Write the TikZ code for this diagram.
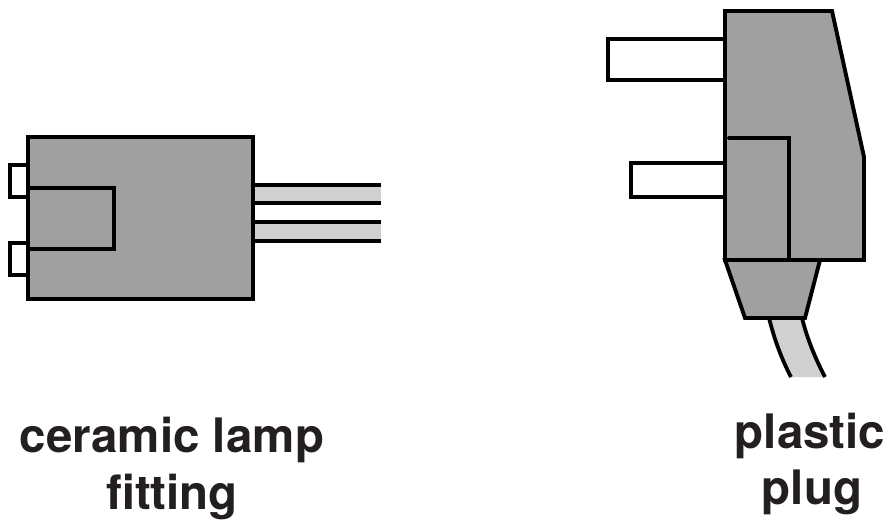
\documentclass[tikz,border=0pt]{standalone}
\usepackage{fontspec}
\setmainfont{TeX Gyre Heros}
\definecolor{bodygray}{HTML}{A0A0A0}
\definecolor{wiregray}{HTML}{D0D0D0}
\definecolor{labelink}{HTML}{231F20}
\tikzset{
  part/.style={draw=black,fill=bodygray,line width=3.9pt,line join=miter},
  pin/.style={draw=black,fill=white,line width=3.4pt},
  edge line/.style={draw=black,line width=3.8pt},
  label text/.style={font=\fontsize{47.5}{57}\selectfont\bfseries,anchor=base,inner sep=0pt,text=labelink}
}
\begin{document}
\begin{tikzpicture}[x=1pt,y=-1pt]
\useasboundingbox (0,0) rectangle (890,519);
% lamp fitting
\draw[pin] (28,165) -- (10,165) -- (10,197) -- (28,197);
\draw[pin] (28,243) -- (10,243) -- (10,275) -- (28,275);
\fill[wiregray] (253,185) rectangle (381,203);
\fill[wiregray] (253,222) rectangle (381,241);
\draw[edge line,line width=4.2pt] (253,185) -- (381,185);
\draw[edge line] (253,203) -- (381,203);
\draw[edge line] (253,222) -- (381,222);
\draw[edge line] (253,241) -- (381,241);
\draw[part] (28,137) rectangle (253,299);
\draw[edge line] (28,188) -- (114,188) -- (114,249) -- (28,249);
% plug
\draw[pin] (725,39) -- (608,39) -- (608,80) -- (725,80);
\draw[pin] (725,163) -- (631,163) -- (631,197) -- (725,197);
\fill[wiregray] (769,318) .. controls (774,338) and (781,358) .. (791,377) -- (825,377) .. controls (815,358) and (807,338) .. (802,318) -- cycle;
\draw[edge line] (769,318) .. controls (774,338) and (781,358) .. (791,377);
\draw[edge line] (802,318) .. controls (807,338) and (815,358) .. (825,377);
\draw[part] (725,11) -- (832,11) -- (864,157) -- (864,260) -- (725,260) -- cycle;
\draw[edge line,line cap=round] (729,138) -- (789,138) -- (789,260);
\draw[part] (725,260) -- (820,260) -- (805,318) -- (745,318) -- cycle;
% labels
\node[label text] (lampA) at (172,452) {ceramic lamp};
\node[label text] (lampB) at (172,509) {fitting};
\node[label text] (plugA) at (810,448) {plastic};
\node[label text] (plugB) at (812,504) {plug};
\end{tikzpicture}
\end{document}
